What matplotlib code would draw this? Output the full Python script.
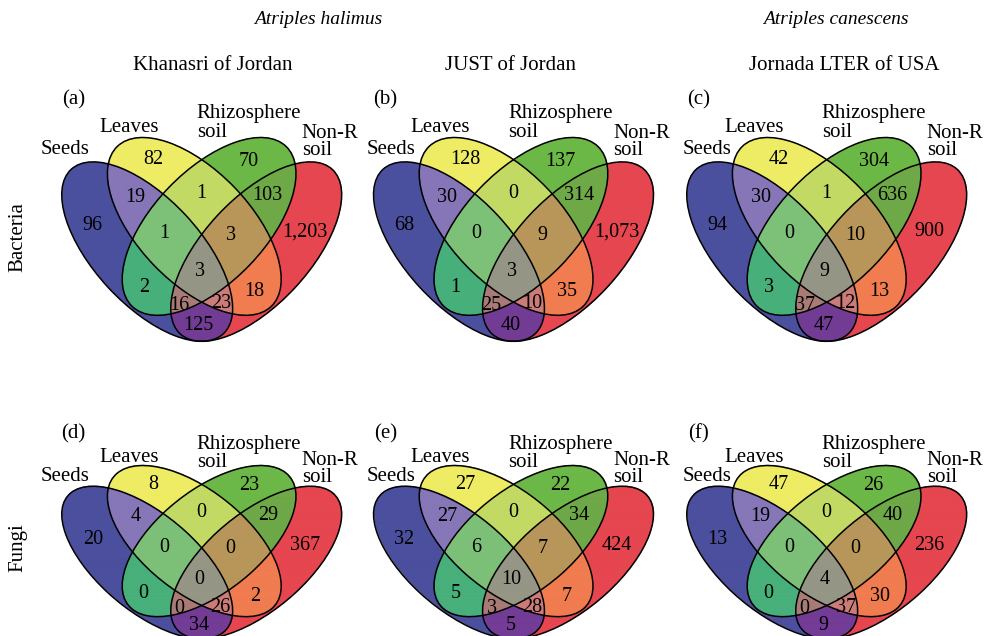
import numpy as np
import matplotlib
matplotlib.use("Agg")
import matplotlib.pyplot as plt
from matplotlib.patches import Ellipse
from matplotlib.colors import to_rgba

plt.rcParams['font.family'] = ['Liberation Serif', 'DejaVu Serif']

# ---- data ----
set_names = ['Seeds', 'Leaves', 'Rhizosphere\nsoil', 'Non-R\nsoil']
regions = ['S', 'L', 'R', 'N', 'SL', 'LR', 'RN', 'SLR', 'LRN', 'SLRN',
           'SR', 'LN', 'SRN', 'SLN', 'SN']

bact_khanasri = [96, 82, 70, 1203, 19, 1, 103, 1, 3, 3, 2, 18, 16, 23, 125]
bact_just = [68, 128, 137, 1073, 30, 0, 314, 0, 9, 3, 1, 35, 25, 10, 40]
bact_jornada = [94, 42, 304, 900, 30, 1, 636, 0, 10, 9, 3, 13, 37, 12, 47]
fungi_khanasri = [20, 8, 23, 367, 4, 0, 29, 0, 0, 0, 0, 2, 0, 26, 34]
fungi_just = [32, 27, 22, 424, 27, 0, 34, 6, 7, 10, 5, 7, 3, 28, 5]
fungi_jornada = [13, 47, 26, 236, 19, 0, 40, 0, 0, 4, 0, 30, 0, 37, 9]

panel_tags = ['(a)', '(b)', '(c)', '(d)', '(e)', '(f)']
sites = ['Khanasri of Jordan', 'JUST of Jordan', 'Jornada LTER of USA']
species = ['Atriples halimus', 'Atriples canescens']
kingdoms = ['Bacteria', 'Fungi']

# ---- styling / layout ----
region_colors = {
    'S': '#4b4f9e', 'L': '#eeec64', 'R': '#6cb848', 'N': '#e6464f',
    'SL': '#8677b8', 'LR': '#c2da64', 'RN': '#6ea848', 'SLR': '#7dc078',
    'LRN': '#b8965a', 'SLRN': '#969686', 'SR': '#48b07a', 'LN': '#f07c50',
    'SRN': '#a97b76', 'SLN': '#cc7c78', 'SN': '#733c96',
}
# ellipse geometry in local pixel units (y downwards): cx, cy, a, b, angle
ellipses = {
    'S': (-54.5, 20.6, 112, 53, 47.2),
    'L': (-7.4, -4.6, 111, 56, 46.1),
    'R': (7.4, -4.6, 111, 56, 133.9),
    'N': (54.5, 20.6, 112, 53, 132.8),
}
bits = {'S': 1, 'L': 2, 'R': 4, 'N': 8}
label_pos = {
    'S': (-109, -6), 'L': (-48, -71), 'R': (47, -70), 'N': (103, 1),
    'SL': (-66, -33), 'LR': (0, -38), 'RN': (66, -35), 'SLR': (-37, 3),
    'LRN': (29, 4), 'SLRN': (-2, 40), 'SR': (-58, 57), 'LN': (53, 61),
    'SRN': (-22, 75), 'SLN': (19, 73), 'SN': (-3, 95),
}
seeds_x = [-137, -122, -120]

W, H = 994, 636
fig = plt.figure(figsize=(9.94, 6.36), dpi=100)

# region code -> colour table
lut = np.zeros((16, 4))
for key, col in region_colors.items():
    code = sum(bits[c] for c in key)
    lut[code] = to_rgba(col)

x0, x1, y0, y1 = -160, 160, -150, 125
xs = x0 + (np.arange((x1 - x0) * 3) + 0.5) / 3
ys = y0 + (np.arange((y1 - y0) * 3) + 0.5) / 3
XX, YY = np.meshgrid(xs, ys)
code = np.zeros(XX.shape, dtype=int)
for key, (cx, cy, a, b, ang) in ellipses.items():
    t = np.deg2rad(ang)
    dx, dy = XX - cx, YY - cy
    u = dx * np.cos(t) + dy * np.sin(t)
    v = -dx * np.sin(t) + dy * np.cos(t)
    code += bits[key] * ((u / a) ** 2 + (v / b) ** 2 <= 1)
img = lut[code]


def draw_venn(ox, oy, sy, values, tag, sx):
    top_px = oy + y0 * sy
    bot_px = oy + y1 * sy
    ax = fig.add_axes([(ox + x0) / W, 1 - bot_px / H, (x1 - x0) / W, (bot_px - top_px) / H])
    ax.set_xlim(x0, x1)
    ax.set_ylim(y1, y0)
    ax.axis('off')
    ax.imshow(img, extent=(x0, x1, y1, y0), aspect='auto', interpolation='antialiased')
    for key, (cx, cy, a, b, ang) in ellipses.items():
        ax.add_patch(Ellipse((cx, cy), 2 * a, 2 * b, angle=ang, fill=False,
                             edgecolor='black', linewidth=1.1))
    for key, val in zip(regions, values):
        px, py = label_pos[key]
        ax.text(px, py, f"{val:,}", ha='center', va='center', fontsize=14.5)
    ax.text(-128, -131, tag, ha='center', va='center', fontsize=15)
    ax.text(sx, -81, set_names[0], ha='center', va='center', fontsize=15)
    ax.text(-73, -103, set_names[1], ha='center', va='center', fontsize=15)
    ax.text(-5, -108, set_names[2], ha='left', va='center', fontsize=15, linespacing=0.95)
    ax.text(100, -89, set_names[3], ha='left', va='center', fontsize=15, linespacing=0.85)
    return ax


panel_x = [201.7, 513.5, 826.7]
rows = [(231, 1.0, [bact_khanasri, bact_just, bact_jornada]),
        (545, 0.85, [fungi_khanasri, fungi_just, fungi_jornada])]
k = 0
for oy, sy, data in rows:
    for ox, vals, sx in zip(panel_x, data, seeds_x):
        draw_venn(ox, oy, sy, vals, panel_tags[k], sx)
        k += 1

# headers
fig.text(318 / W, 1 - 20 / H, species[0], ha='center', va='center', fontsize=14, style='italic')
fig.text(836 / W, 1 - 20 / H, species[1], ha='center', va='center', fontsize=14, style='italic')
for xc, s in zip([213, 510, 844], sites):
    fig.text(xc / W, 1 - 66 / H, s, ha='center', va='center', fontsize=15)
fig.text(18 / W, 1 - 237 / H, kingdoms[0], ha='center', va='center', fontsize=15, rotation=90)
fig.text(18 / W, 1 - 548 / H, kingdoms[1], ha='center', va='center', fontsize=15, rotation=90)

fig.savefig('out.png', dpi=100, facecolor='white')
